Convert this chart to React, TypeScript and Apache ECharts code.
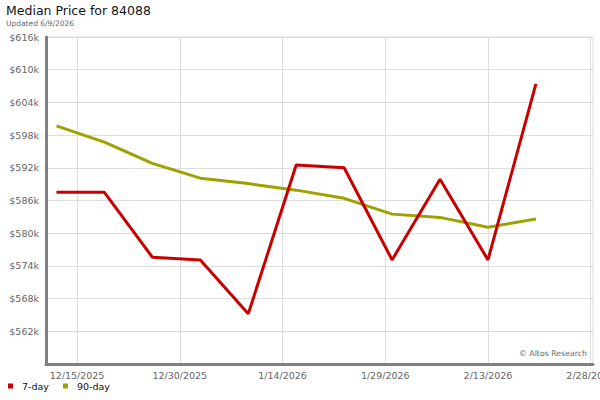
import React, { useEffect, useRef } from "react";
import * as echarts from "echarts";

const dates = [
  "2025-12-12", "2025-12-19", "2025-12-26", "2026-01-02", "2026-01-09",
  "2026-01-16", "2026-01-23", "2026-01-30", "2026-02-06", "2026-02-13", "2026-02-20",
];
const sevenDay = [587.5, 587.5, 575.6, 575.1, 565.2, 592.5, 592.0, 575.1, 589.9, 575.1, 607.4];
const ninetyDay = [599.7, 596.7, 592.8, 590.1, 589.1, 587.9, 586.4, 583.5, 582.9, 581.1, 582.6];
const xTickDates = ["2025-12-15", "2025-12-30", "2026-01-14", "2026-01-29", "2026-02-13", "2026-02-28"];
const seriesNames = ["7-day", "90-day"];
const seriesColors = ["#c80000", "#a0a000"];

const toMs = (d: string) => Date.parse(d + "T00:00:00Z");
const fmtDate = (v: number) => {
  const d = new Date(v);
  return `${d.getUTCMonth() + 1}/${d.getUTCDate()}/${d.getUTCFullYear()}`;
};

const X_MIN = Date.UTC(2025, 11, 10, 11, 20);
const X_MAX = Date.UTC(2026, 1, 28, 8, 0);
const FONT = "DejaVu Sans";

export default function App() {
  const ref = useRef<HTMLDivElement>(null);
  useEffect(() => {
    if (!ref.current) return;
    const chart = echarts.init(ref.current, undefined, { renderer: "svg" });
    const xTicks = xTickDates.map(toMs);
    chart.setOption({
      animation: false,
      backgroundColor: "#ffffff",
      title: {
        text: "Median Price for 84088",
        subtext: "Updated 6/9/2026",
        left: 6,
        top: 4,
        itemGap: 2,
        padding: 0,
        textStyle: { fontFamily: FONT, fontSize: 12.5, fontWeight: "normal", color: "#111" },
        subtextStyle: { fontFamily: FONT, fontSize: 7.5, color: "#666" },
      },
      legend: {
        left: 8,
        top: 381,
        icon: "rect",
        itemWidth: 5,
        itemHeight: 5,
        itemGap: 14,
        padding: 0,
        textStyle: { fontFamily: FONT, fontSize: 9.5, color: "#111", padding: [0, 0, 0, 4] },
        data: seriesNames,
      },
      grid: {
        left: 46,
        right: 7,
        top: 37,
        bottom: 36,
        show: true,
        borderColor: "#dddddd",
        borderWidth: 1,
        containLabel: false,
        outerBoundsMode: "none",
      },
      xAxis: {
        type: "value",
        min: X_MIN,
        max: X_MAX,
        axisLine: { show: true, onZero: false, lineStyle: { color: "#808080", width: 3 } },
        axisTick: { show: false, customValues: xTicks },
        axisLabel: {
          customValues: xTicks,
          formatter: (v: number) => fmtDate(v),
          fontFamily: FONT,
          fontSize: 9.5,
          color: "#666",
          margin: 6,
          showMinLabel: true,
          showMaxLabel: true,
          hideOverlap: false,
        },
        splitLine: { show: true, lineStyle: { color: "#dddddd", width: 1 } },
      },
      yAxis: {
        type: "value",
        min: 556,
        max: 616,
        interval: 6,
        axisLine: { show: true, lineStyle: { color: "#808080", width: 3 } },
        axisTick: { show: false },
        axisLabel: {
          formatter: (v: number) => (v === 556 ? "" : `$${v}k`),
          fontFamily: FONT,
          fontSize: 9.5,
          color: "#666",
          margin: 7,
        },
        splitLine: { show: true, lineStyle: { color: "#dddddd", width: 1 } },
      },
      graphic: [
        {
          type: "text",
          right: 13,
          top: 349,
          style: { text: "© Altos Research", fontFamily: FONT, fontSize: 7.8, fill: "#666" },
        },
      ],
      series: [
        {
          name: seriesNames[0],
          type: "line",
          symbol: "none",
          color: seriesColors[0],
          lineStyle: { color: seriesColors[0], width: 3 },
          data: dates.map((d, i) => [toMs(d), sevenDay[i]]),
          z: 3,
        },
        {
          name: seriesNames[1],
          type: "line",
          symbol: "none",
          color: seriesColors[1],
          lineStyle: { color: seriesColors[1], width: 3 },
          data: dates.map((d, i) => [toMs(d), ninetyDay[i]]),
          z: 2,
        },
      ],
    });
    return () => chart.dispose();
  }, []);
  return (
    <div
      ref={ref}
      style={{ position: "fixed", left: 0, top: 0, width: 600, height: 400 }}
    />
  );
}
